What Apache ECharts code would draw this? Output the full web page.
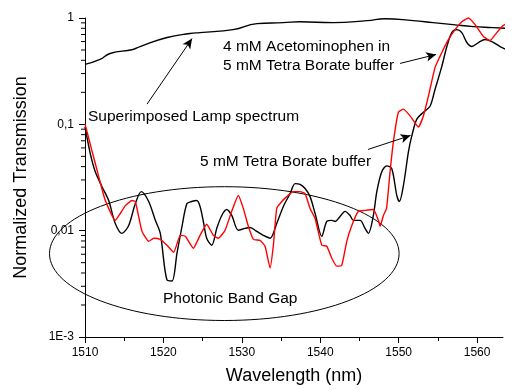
<!DOCTYPE html>
<html>
<head>
<meta charset="utf-8">
<script src="https://cdn.jsdelivr.net/npm/echarts@6/dist/echarts.min.js"></script>
<style>
  html, body { margin: 0; padding: 0; background: #fff; }
  #chart { width: 512px; height: 390px; }
</style>
</head>
<body>
<div id="chart"></div>
<script>
// [wavelength nm, normalized transmission]
const bufferData = [
  [1510, 0.0944], [1510.68, 0.0528], [1511.31, 0.0358], [1512.17, 0.0259], [1513.02, 0.0192],
  [1513.86, 0.0117], [1514.72, 0.00944], [1515.57, 0.0112], [1516.42, 0.0180], [1517.18, 0.0233],
  [1518.12, 0.0188], [1518.97, 0.0125], [1519.6, 0.00944], [1520.46, 0.00343], [1521.1, 0.00336],
  [1521.73, 0.00614], [1522.37, 0.0110], [1523.0, 0.0180], [1523.6, 0.0188], [1524.25, 0.0192],
  [1524.67, 0.0169], [1525.09, 0.0122], [1525.52, 0.00848], [1526.16, 0.00729], [1526.8, 0.0105],
  [1527.44, 0.0139], [1528.07, 0.0158], [1528.71, 0.0139], [1529.55, 0.0101], [1530.41, 0.0105],
  [1531.05, 0.0107], [1531.9, 0.00985], [1532.74, 0.00904], [1533.6, 0.00848], [1534.45, 0.0117],
  [1535.29, 0.0169], [1536.15, 0.0223], [1536.79, 0.0277], [1537.42, 0.0272], [1538.06, 0.0249],
  [1538.7, 0.0209], [1539.34, 0.0145], [1540.19, 0.00885], [1540.83, 0.0122], [1541.47, 0.0125],
  [1541.89, 0.0122], [1542.52, 0.0136], [1543.16, 0.0152], [1543.8, 0.0139], [1544.22, 0.0125],
  [1545.08, 0.0125], [1545.71, 0.0105], [1546.14, 0.00944], [1546.77, 0.0139], [1547.21, 0.0233],
  [1547.84, 0.0358], [1548.48, 0.0407], [1549.12, 0.0382], [1549.76, 0.0214], [1550.09, 0.0188],
  [1550.6, 0.0265], [1551.24, 0.0551], [1551.67, 0.0778], [1552.31, 0.112], [1553.15, 0.130],
  [1554.0, 0.148], [1554.64, 0.214], [1555.5, 0.351], [1556.14, 0.539], [1556.77, 0.729],
  [1557.41, 0.777], [1558.05, 0.729], [1558.69, 0.588], [1559.33, 0.539], [1560.17, 0.588],
  [1561.02, 0.627], [1561.88, 0.600], [1562.93, 0.539], [1564.21, 0.484], [1564.46, 0.474]
];

const acetaminophenData = [
  [1510, 0.1007], [1510.89, 0.0563], [1511.75, 0.0322], [1512.59, 0.0192], [1513.86, 0.0125],
  [1514.5, 0.0145], [1515.14, 0.0172], [1516.0, 0.0192], [1516.42, 0.0188], [1517.27, 0.00985],
  [1518.12, 0.00794], [1518.76, 0.00848], [1519.6, 0.00829], [1520.46, 0.00729], [1521.31, 0.00627],
  [1522.16, 0.00904], [1522.79, 0.00885], [1523.81, 0.00684], [1524.67, 0.00904], [1525.52, 0.0115],
  [1526.36, 0.00904], [1527.0, 0.00848], [1527.86, 0.0101], [1528.71, 0.0152], [1529.55, 0.0214],
  [1530.19, 0.0162], [1530.83, 0.0110], [1531.47, 0.00829], [1532.32, 0.00811], [1532.96, 0.00714],
  [1533.6, 0.00444], [1534.02, 0.00729], [1534.45, 0.0162], [1535.09, 0.0188], [1535.73, 0.0209],
  [1536.57, 0.0233], [1537.42, 0.0233], [1538.06, 0.0223], [1538.7, 0.0162], [1539.34, 0.0130],
  [1540.19, 0.00729], [1540.83, 0.00714], [1541.47, 0.00551], [1542.1, 0.00464], [1542.74, 0.00474],
  [1543.38, 0.00794], [1544.02, 0.0112], [1544.86, 0.0152], [1545.71, 0.0155], [1546.77, 0.0158],
  [1547.41, 0.0125], [1547.63, 0.0110], [1548.05, 0.0139], [1548.45, 0.0162], [1548.9, 0.0358],
  [1549.32, 0.0684], [1549.96, 0.130], [1550.6, 0.139], [1551.45, 0.120], [1552.51, 0.0944],
  [1553.15, 0.120], [1553.79, 0.184], [1554.64, 0.343], [1555.5, 0.474], [1556.34, 0.627],
  [1557.19, 0.777], [1558.05, 0.923], [1558.89, 1.0], [1559.74, 0.866], [1560.8, 0.669],
  [1561.66, 0.614], [1562.3, 0.698], [1563.15, 0.829], [1563.79, 0.885], [1564.46, 0.812]
];

const lampData = [
  [1510, 0.366], [1511.91, 0.408], [1513.19, 0.464], [1516.12, 0.506], [1517.02, 0.539],
  [1520.46, 0.655], [1523.39, 0.714], [1524.67, 0.729], [1528.88, 0.777], [1531.94, 0.885],
  [1535.26, 0.904], [1537.42, 0.923], [1541.63, 0.904], [1545.97, 0.944], [1548.27, 0.985],
  [1551.84, 0.944], [1554.39, 0.904], [1556.94, 0.866], [1559.49, 0.829], [1562.04, 0.812],
  [1564.46, 0.794]
];

const xTicks = [1510, 1520, 1530, 1540, 1550, 1560];
const xMinorTicks = [1515, 1525, 1535, 1545, 1555];
const yTickValues = [0.001, 0.01, 0.1, 1];
const yTickLabels = ['1E-3', '0,01', '0,1', '1'];
const yMinorTicks = [
  0.002, 0.003, 0.004, 0.005, 0.006, 0.007, 0.008, 0.009,
  0.02, 0.03, 0.04, 0.05, 0.06, 0.07, 0.08, 0.09,
  0.2, 0.3, 0.4, 0.5, 0.6, 0.7, 0.8, 0.9
];

// arrows: [from, to] in data coords
const arrows = [
  [[1517.91, 0.155], [1523.65, 0.640]],
  [[1550.18, 0.374], [1554.77, 0.454]],
  [[1546.1, 0.0581], [1551.51, 0.0786]]
];

const X_MIN = 1510;
const X_MAX = 1563.3;
const FONT = '"Liberation Sans", Arial, Helvetica, sans-serif';

const chart = echarts.init(document.getElementById('chart'));

const tickLabel = (v) => {
  const e = Math.log10(v);
  let best = 0;
  yTickValues.forEach((t, i) => {
    if (Math.abs(Math.log10(t) - e) < Math.abs(Math.log10(yTickValues[best]) - e)) best = i;
  });
  return yTickLabels[best];
};

const annoText = (text, x, y) => ({
  type: 'text',
  x: x,
  y: y,
  silent: true,
  style: {
    text: text,
    fontSize: 15.5,
    fontFamily: FONT,
    fill: '#000',
    verticalAlign: 'middle'
  }
});

const option = {
  animation: false,
  grid: { left: 85, right: 9, top: 18, bottom: 51 },
  xAxis: [
    {
      type: 'value',
      min: X_MIN,
      max: X_MAX,
      name: 'Wavelength (nm)',
      nameLocation: 'middle',
      nameGap: 30,
      nameTextStyle: { fontSize: 18, fontFamily: FONT, color: '#000' },
      axisLine: { lineStyle: { color: '#000', width: 1 } },
      axisTick: { customValues: xTicks, length: 6, lineStyle: { color: '#000' } },
      axisLabel: {
        customValues: xTicks,
        fontSize: 12,
        fontFamily: FONT,
        color: '#000',
        margin: 10,
        formatter: (v) => String(Math.round(v))
      },
      splitLine: { show: false }
    },
    {
      type: 'value',
      min: X_MIN,
      max: X_MAX,
      position: 'bottom',
      axisLine: { show: false },
      axisTick: { customValues: xMinorTicks, length: 4, lineStyle: { color: '#000' } },
      axisLabel: { show: false },
      splitLine: { show: false }
    }
  ],
  yAxis: {
    type: 'log',
    logBase: 10,
    min: 0.001,
    max: 1,
    name: 'Normalized Transmission',
    nameLocation: 'middle',
    nameGap: 55,
    nameTextStyle: { fontSize: 18, fontFamily: FONT, color: '#000' },
    axisLine: { show: true, lineStyle: { color: '#000', width: 1 } },
    axisTick: { show: true, length: 6, lineStyle: { color: '#000' } },
    axisLabel: { fontSize: 12, fontFamily: FONT, color: '#000', margin: 11, formatter: tickLabel },
    splitLine: { show: false }
  },
  series: [
    {
      name: '5 mM Tetra Borate buffer',
      type: 'line',
      data: bufferData,
      showSymbol: false,
      smooth: 0.3,
      clip: false,
      lineStyle: { color: '#000', width: 1.4 },
      z: 3
    },
    {
      name: '4 mM Acetominophen in 5 mM Tetra Borate buffer',
      type: 'line',
      data: acetaminophenData,
      showSymbol: false,
      smooth: 0.15,
      clip: false,
      lineStyle: { color: '#ff0000', width: 1.4 },
      z: 4
    },
    {
      name: 'Superimposed Lamp spectrum',
      type: 'line',
      data: lampData,
      showSymbol: false,
      smooth: 0.5,
      clip: false,
      lineStyle: { color: '#000', width: 1.4 },
      z: 3,
      markLine: {
        silent: true,
        symbol: ['none', 'arrow'],
        symbolSize: [7, 10],
        label: { show: false },
        lineStyle: { color: '#000', width: 1, type: 'solid' },
        emphasis: { disabled: true },
        data: arrows.map(a => [{ coord: a[0] }, { coord: a[1] }])
      }
    },
    {
      // minor ticks of the log axis
      type: 'custom',
      silent: true,
      clip: false,
      data: yMinorTicks.map(v => [X_MIN, v]),
      renderItem: (params, api) => {
        const p = api.coord([api.value(0), api.value(1)]);
        return {
          type: 'line',
          shape: { x1: p[0] - 4, y1: p[1], x2: p[0], y2: p[1] },
          style: { stroke: '#000', lineWidth: 1 }
        };
      }
    }
  ],
  graphic: [
    {
      type: 'ellipse',
      silent: true,
      shape: { cx: 224.3, cy: 253.6, rx: 174.8, ry: 66.9 },
      style: { fill: 'none', stroke: '#000', lineWidth: 1 }
    },
    annoText('Superimposed Lamp spectrum', 88, 117),
    annoText('4 mM Acetominophen in', 223, 47),
    annoText('5 mM Tetra Borate buffer', 223, 66),
    annoText('5 mM Tetra Borate buffer', 200, 162),
    annoText('Photonic Band Gap', 163, 299)
  ]
};

chart.setOption(option);
</script>
</body>
</html>
